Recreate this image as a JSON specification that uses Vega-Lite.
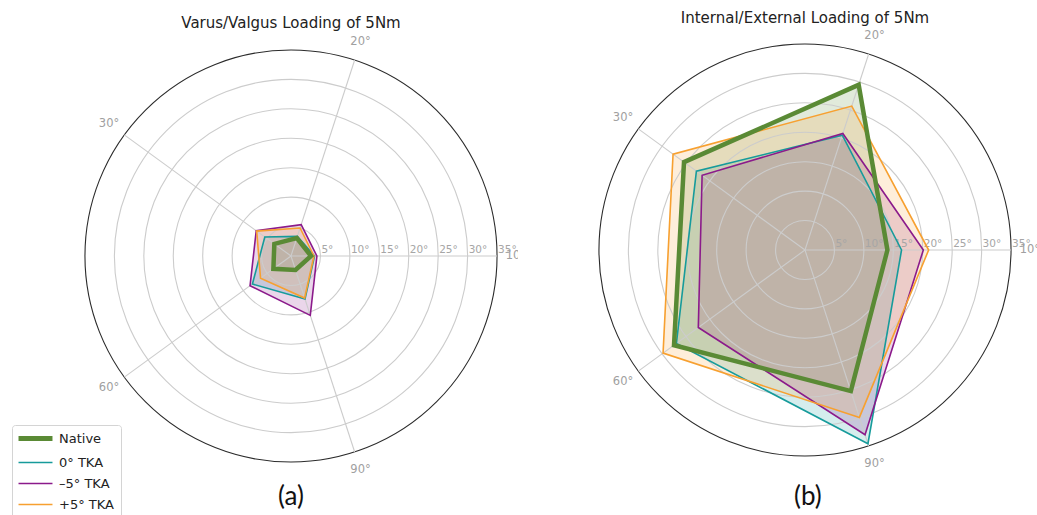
{
 "$schema": "https://vega.github.io/schema/vega-lite/v6.json",
 "background": "white",
 "padding": 0,
 "spacing": 0,
 "bounds": "flush",
 "config": {"view": {"stroke": null}},
 "resolve": {"scale": {"color": "independent"}, "legend": {"color": "independent"}},
 "datasets": {
  "polys": [
   {"p":"a","s":"Native","k":0,"r":3.4},{"p":"a","s":"Native","k":1,"r":3.2},{"p":"a","s":"Native","k":2,"r":3.5},{"p":"a","s":"Native","k":3,"r":3.7},{"p":"a","s":"Native","k":4,"r":2.5},
   {"p":"a","s":"0° TKA","k":0,"r":4.0},{"p":"a","s":"0° TKA","k":1,"r":3.5},{"p":"a","s":"0° TKA","k":2,"r":5.5},{"p":"a","s":"0° TKA","k":3,"r":8.1},{"p":"a","s":"0° TKA","k":4,"r":7.7},
   {"p":"a","s":"–5° TKA","k":0,"r":4.4},{"p":"a","s":"–5° TKA","k":1,"r":5.6},{"p":"a","s":"–5° TKA","k":2,"r":7.3},{"p":"a","s":"–5° TKA","k":3,"r":8.6},{"p":"a","s":"–5° TKA","k":4,"r":10.6},
   {"p":"a","s":"+5° TKA","k":0,"r":3.9},{"p":"a","s":"+5° TKA","k":1,"r":5.0},{"p":"a","s":"+5° TKA","k":2,"r":7.2},{"p":"a","s":"+5° TKA","k":3,"r":6.4},{"p":"a","s":"+5° TKA","k":4,"r":7.5},
   {"p":"b","s":"Native","k":0,"r":14.0},{"p":"b","s":"Native","k":1,"r":29.5},{"p":"b","s":"Native","k":2,"r":25.4},{"p":"b","s":"Native","k":3,"r":27.5},{"p":"b","s":"Native","k":4,"r":25.2},
   {"p":"b","s":"0° TKA","k":0,"r":16.4},{"p":"b","s":"0° TKA","k":1,"r":20.5},{"p":"b","s":"0° TKA","k":2,"r":22.8},{"p":"b","s":"0° TKA","k":3,"r":27.0},{"p":"b","s":"0° TKA","k":4,"r":34.6},
   {"p":"b","s":"–5° TKA","k":0,"r":20.1},{"p":"b","s":"–5° TKA","k":1,"r":20.8},{"p":"b","s":"–5° TKA","k":2,"r":21.6},{"p":"b","s":"–5° TKA","k":3,"r":22.4},{"p":"b","s":"–5° TKA","k":4,"r":33.0},
   {"p":"b","s":"+5° TKA","k":0,"r":21.0},{"p":"b","s":"+5° TKA","k":1,"r":25.7},{"p":"b","s":"+5° TKA","k":2,"r":27.7},{"p":"b","s":"+5° TKA","k":3,"r":29.8},{"p":"b","s":"+5° TKA","k":4,"r":29.9}
  ],
  "rings": [{"r":5,"label":"5°"},{"r":10,"label":"10°"},{"r":15,"label":"15°"},{"r":20,"label":"20°"},{"r":25,"label":"25°"},{"r":30,"label":"30°"},{"r":35,"label":"35°"}],
  "spokes": [{"k":0,"label":"10°"},{"k":1,"label":"20°"},{"k":2,"label":"30°"},{"k":3,"label":"60°"},{"k":4,"label":"90°"}]
 },
 "hconcat": [
  {
   "width": 518, "height": 515,
   "layer": [
    {"data":{"name":"polys"},
     "transform":[{"filter":"datum.p === 'a'"},{"calculate":"datum.r*cos(datum.k*2*PI/5)","as":"x"},{"calculate":"datum.r*sin(datum.k*2*PI/5)","as":"y"}],
     "mark":{"type":"line","interpolate":"linear-closed","fillOpacity":0.18,"strokeOpacity":0,"strokeWidth":0},
     "encoding":{
      "x":{"field":"x","type":"quantitative","scale":{"domain":[-49.427,38.556],"nice":false,"zero":false},"axis":null},
      "y":{"field":"y","type":"quantitative","scale":{"domain":[-43.992,43.482],"nice":false,"zero":false},"axis":null},
      "order":{"field":"k","type":"quantitative"},
      "detail":{"field":"s","type":"nominal"},
      "fill":{"field":"s","type":"nominal","scale":{"domain":["Native","0° TKA","–5° TKA","+5° TKA"],"range":["#5a8a35","#169b9b","#8b1a8b","#f7a030"]},"legend":null}}},
    {"data":{"name":"rings"},
     "mark":{"type":"point","shape":"circle","filled":false,"strokeWidth":1.1,"opacity":1,"clip":true},
     "encoding":{
      "x":{"datum":0,"type":"quantitative","scale":{"domain":[-49.427,38.556],"nice":false,"zero":false},"axis":null},
      "y":{"datum":0,"type":"quantitative","scale":{"domain":[-43.992,43.482],"nice":false,"zero":false},"axis":null},
      "stroke":{"condition":{"test":"datum.r == 35","value":"#2b2b2b"},"value":"#cccccc"},
      "size":{"field":"r","type":"quantitative","scale":{"type":"pow","exponent":2,"domain":[0,35],"range":[0,169826]},"legend":null}}},
    {"data":{"name":"spokes"},
     "transform":[{"calculate":"35*cos(datum.k*2*PI/5)","as":"ex"},{"calculate":"35*sin(datum.k*2*PI/5)","as":"ey"}],
     "mark":{"type":"rule","color":"#cccccc","strokeWidth":1.1},
     "encoding":{
      "x":{"field":"ex","type":"quantitative","scale":{"domain":[-49.427,38.556],"nice":false,"zero":false},"axis":null},
      "y":{"field":"ey","type":"quantitative","scale":{"domain":[-43.992,43.482],"nice":false,"zero":false},"axis":null},
      "x2":{"datum":0},"y2":{"datum":0}}},
    {"data":{"name":"rings"},
     "mark":{"type":"text","align":"left","baseline":"bottom","dx":1,"dy":-1,"font":"DejaVu Sans","fontSize":10.5,"color":"#a6a6a6"},
     "encoding":{
      "x":{"field":"r","type":"quantitative","scale":{"domain":[-49.427,38.556],"nice":false,"zero":false},"axis":null},
      "y":{"datum":0,"type":"quantitative","scale":{"domain":[-43.992,43.482],"nice":false,"zero":false},"axis":null},
      "text":{"field":"label","type":"nominal"}}},
    {"data":{"name":"spokes"},
     "transform":[{"calculate":"38.2*cos(datum.k*2*PI/5)","as":"lx"},{"calculate":"38.2*sin(datum.k*2*PI/5)","as":"ly"}],
     "mark":{"type":"text","align":"center","baseline":"middle","font":"DejaVu Sans","fontSize":11.5,"color":"#a0a0a0","clip":true},
     "encoding":{
      "x":{"field":"lx","type":"quantitative","scale":{"domain":[-49.427,38.556],"nice":false,"zero":false},"axis":null},
      "y":{"field":"ly","type":"quantitative","scale":{"domain":[-43.992,43.482],"nice":false,"zero":false},"axis":null},
      "text":{"field":"label","type":"nominal"}}},
    {"data":{"name":"polys"},
     "transform":[{"filter":"datum.p === 'a' && datum.s !== 'Native'"},{"calculate":"datum.r*cos(datum.k*2*PI/5)","as":"x"},{"calculate":"datum.r*sin(datum.k*2*PI/5)","as":"y"}],
     "mark":{"type":"line","interpolate":"linear-closed","strokeWidth":1.6},
     "encoding":{
      "x":{"field":"x","type":"quantitative","scale":{"domain":[-49.427,38.556],"nice":false,"zero":false},"axis":null},
      "y":{"field":"y","type":"quantitative","scale":{"domain":[-43.992,43.482],"nice":false,"zero":false},"axis":null},
      "order":{"field":"k","type":"quantitative"},
      "color":{"field":"s","type":"nominal","scale":{"domain":["Native","0° TKA","–5° TKA","+5° TKA"],"range":["#5a8a35","#169b9b","#8b1a8b","#f7a030"]},
       "legend":{"orient":"none","legendX":12,"legendY":425,"title":null,"symbolType":"M-2.83,0H2.83","symbolSize":144,"symbolStrokeWidth":1.5,"symbolOffset":10,"labelOffset":17,"labelFont":"DejaVu Sans","labelFontSize":13,"labelColor":"#222222","strokeColor":"#d4d4d4","fillColor":"white","cornerRadius":3,"padding":7,"rowPadding":7,
        "encode":{"symbols":{"update":{"strokeWidth":{"signal":"datum.value === 'Native' ? 5 : 1.5"}}}}}}}},
    {"data":{"name":"polys"},
     "transform":[{"filter":"datum.p === 'a' && datum.s === 'Native'"},{"calculate":"datum.r*cos(datum.k*2*PI/5)","as":"x"},{"calculate":"datum.r*sin(datum.k*2*PI/5)","as":"y"}],
     "mark":{"type":"line","interpolate":"linear-closed","strokeWidth":4.5,"stroke":"#5a8a35"},
     "encoding":{
      "x":{"field":"x","type":"quantitative","scale":{"domain":[-49.427,38.556],"nice":false,"zero":false},"axis":null},
      "y":{"field":"y","type":"quantitative","scale":{"domain":[-43.992,43.482],"nice":false,"zero":false},"axis":null},
      "order":{"field":"k","type":"quantitative"}}},
    {"data":{"values":[{}]},
     "mark":{"type":"text","text":"Varus/Valgus Loading of 5Nm","align":"center","baseline":"middle","font":"DejaVu Sans","fontSize":15,"color":"#222222"},
     "encoding":{
      "x":{"datum":0,"type":"quantitative","scale":{"domain":[-49.427,38.556],"nice":false,"zero":false},"axis":null},
      "y":{"datum":39.5,"type":"quantitative","scale":{"domain":[-43.992,43.482],"nice":false,"zero":false},"axis":null}}},
    {"data":{"values":[{}]},
     "mark":{"type":"text","text":"(a)","align":"center","baseline":"middle","font":"Lato","fontSize":26,"color":"#111111"},
     "encoding":{
      "x":{"datum":0,"type":"quantitative","scale":{"domain":[-49.427,38.556],"nice":false,"zero":false},"axis":null},
      "y":{"datum":-40.9,"type":"quantitative","scale":{"domain":[-43.992,43.482],"nice":false,"zero":false},"axis":null}}}
   ]
  },
  {
   "width": 519, "height": 515,
   "layer": [
    {"data":{"name":"polys"},
     "transform":[{"filter":"datum.p === 'b'"},{"calculate":"datum.r*cos(datum.k*2*PI/5)","as":"x"},{"calculate":"datum.r*sin(datum.k*2*PI/5)","as":"y"}],
     "mark":{"type":"line","interpolate":"linear-closed","fillOpacity":0.18,"strokeOpacity":0,"strokeWidth":0},
     "encoding":{
      "x":{"field":"x","type":"quantitative","scale":{"domain":[-48.747,39.406],"nice":false,"zero":false},"axis":null},
      "y":{"field":"y","type":"quantitative","scale":{"domain":[-45.011,42.463],"nice":false,"zero":false},"axis":null},
      "order":{"field":"k","type":"quantitative"},
      "detail":{"field":"s","type":"nominal"},
      "fill":{"field":"s","type":"nominal","scale":{"domain":["Native","0° TKA","–5° TKA","+5° TKA"],"range":["#5a8a35","#169b9b","#8b1a8b","#f7a030"]},"legend":null}}},
    {"data":{"name":"rings"},
     "mark":{"type":"point","shape":"circle","filled":false,"strokeWidth":1.1,"opacity":1,"clip":true},
     "encoding":{
      "x":{"datum":0,"type":"quantitative","scale":{"domain":[-48.747,39.406],"nice":false,"zero":false},"axis":null},
      "y":{"datum":0,"type":"quantitative","scale":{"domain":[-45.011,42.463],"nice":false,"zero":false},"axis":null},
      "stroke":{"condition":{"test":"datum.r == 35","value":"#2b2b2b"},"value":"#cccccc"},
      "size":{"field":"r","type":"quantitative","scale":{"type":"pow","exponent":2,"domain":[0,35],"range":[0,169826]},"legend":null}}},
    {"data":{"name":"spokes"},
     "transform":[{"calculate":"35*cos(datum.k*2*PI/5)","as":"ex"},{"calculate":"35*sin(datum.k*2*PI/5)","as":"ey"}],
     "mark":{"type":"rule","color":"#cccccc","strokeWidth":1.1},
     "encoding":{
      "x":{"field":"ex","type":"quantitative","scale":{"domain":[-48.747,39.406],"nice":false,"zero":false},"axis":null},
      "y":{"field":"ey","type":"quantitative","scale":{"domain":[-45.011,42.463],"nice":false,"zero":false},"axis":null},
      "x2":{"datum":0},"y2":{"datum":0}}},
    {"data":{"name":"rings"},
     "mark":{"type":"text","align":"left","baseline":"bottom","dx":1,"dy":-1,"font":"DejaVu Sans","fontSize":10.5,"color":"#a6a6a6"},
     "encoding":{
      "x":{"field":"r","type":"quantitative","scale":{"domain":[-48.747,39.406],"nice":false,"zero":false},"axis":null},
      "y":{"datum":0,"type":"quantitative","scale":{"domain":[-45.011,42.463],"nice":false,"zero":false},"axis":null},
      "text":{"field":"label","type":"nominal"}}},
    {"data":{"name":"spokes"},
     "transform":[{"calculate":"38.2*cos(datum.k*2*PI/5)","as":"lx"},{"calculate":"38.2*sin(datum.k*2*PI/5)","as":"ly"}],
     "mark":{"type":"text","align":"center","baseline":"middle","font":"DejaVu Sans","fontSize":11.5,"color":"#a0a0a0","clip":true},
     "encoding":{
      "x":{"field":"lx","type":"quantitative","scale":{"domain":[-48.747,39.406],"nice":false,"zero":false},"axis":null},
      "y":{"field":"ly","type":"quantitative","scale":{"domain":[-45.011,42.463],"nice":false,"zero":false},"axis":null},
      "text":{"field":"label","type":"nominal"}}},
    {"data":{"name":"polys"},
     "transform":[{"filter":"datum.p === 'b' && datum.s !== 'Native'"},{"calculate":"datum.r*cos(datum.k*2*PI/5)","as":"x"},{"calculate":"datum.r*sin(datum.k*2*PI/5)","as":"y"}],
     "mark":{"type":"line","interpolate":"linear-closed","strokeWidth":1.6},
     "encoding":{
      "x":{"field":"x","type":"quantitative","scale":{"domain":[-48.747,39.406],"nice":false,"zero":false},"axis":null},
      "y":{"field":"y","type":"quantitative","scale":{"domain":[-45.011,42.463],"nice":false,"zero":false},"axis":null},
      "order":{"field":"k","type":"quantitative"},
      "color":{"field":"s","type":"nominal","scale":{"domain":["Native","0° TKA","–5° TKA","+5° TKA"],"range":["#5a8a35","#169b9b","#8b1a8b","#f7a030"]},"legend":null}}},
    {"data":{"name":"polys"},
     "transform":[{"filter":"datum.p === 'b' && datum.s === 'Native'"},{"calculate":"datum.r*cos(datum.k*2*PI/5)","as":"x"},{"calculate":"datum.r*sin(datum.k*2*PI/5)","as":"y"}],
     "mark":{"type":"line","interpolate":"linear-closed","strokeWidth":4.5,"stroke":"#5a8a35"},
     "encoding":{
      "x":{"field":"x","type":"quantitative","scale":{"domain":[-48.747,39.406],"nice":false,"zero":false},"axis":null},
      "y":{"field":"y","type":"quantitative","scale":{"domain":[-45.011,42.463],"nice":false,"zero":false},"axis":null},
      "order":{"field":"k","type":"quantitative"}}},
    {"data":{"values":[{}]},
     "mark":{"type":"text","text":"Internal/External Loading of 5Nm","align":"center","baseline":"middle","font":"DejaVu Sans","fontSize":15,"color":"#222222"},
     "encoding":{
      "x":{"datum":0,"type":"quantitative","scale":{"domain":[-48.747,39.406],"nice":false,"zero":false},"axis":null},
      "y":{"datum":39.4,"type":"quantitative","scale":{"domain":[-45.011,42.463],"nice":false,"zero":false},"axis":null}}},
    {"data":{"values":[{}]},
     "mark":{"type":"text","text":"(b)","align":"center","baseline":"middle","font":"Lato","fontSize":26,"color":"#111111"},
     "encoding":{
      "x":{"datum":0.5,"type":"quantitative","scale":{"domain":[-48.747,39.406],"nice":false,"zero":false},"axis":null},
      "y":{"datum":-41.9,"type":"quantitative","scale":{"domain":[-45.011,42.463],"nice":false,"zero":false},"axis":null}}}
   ]
  }
 ]
}
